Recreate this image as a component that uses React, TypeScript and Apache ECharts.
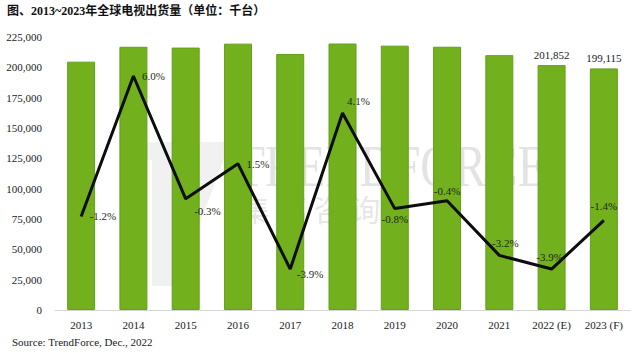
import React, { useEffect, useRef } from "react";
import * as echarts from "echarts";

const categories = ["2013", "2014", "2015", "2016", "2017", "2018", "2019", "2020", "2021", "2022 (E)", "2023 (F)"];
const shipments = [204657, 216936, 216285, 219529, 210967, 219617, 217860, 216988, 210044, 201852, 199115];
const growth = [-1.2, 6.0, -0.3, 1.5, -3.9, 4.1, -0.8, -0.4, -3.2, -3.9, -1.4];
const labelledBars = [9, 10];
const yTicks = [0, 25000, 50000, 75000, 100000, 125000, 150000, 175000, 200000, 225000];

const SERIF = "'Liberation Serif','Times New Roman',serif";

const growthLabel: Array<{ position: string; offset: number[] }> = [
  { position: "right", offset: [2, 0] },
  { position: "right", offset: [2, 0] },
  { position: "right", offset: [2, 12] },
  { position: "right", offset: [2, 0] },
  { position: "right", offset: [0, 5] },
  { position: "right", offset: [-2, -12] },
  { position: "bottom", offset: [0, -2] },
  { position: "top", offset: [0, 2] },
  { position: "top", offset: [6, 0] },
  { position: "top", offset: [-2, 0] },
  { position: "top", offset: [0, -2] },
];

export default function App() {
  const ref = useRef<HTMLDivElement>(null);
  useEffect(() => {
    if (!ref.current) return;
    const chart = echarts.init(ref.current, null, { renderer: "svg" });
    const fmt = (v: number) => v.toLocaleString("en-US");
    chart.setOption({
      animation: false,
      backgroundColor: "#ffffff",
      grid: { left: 55, right: 10, top: 37, bottom: 43, containLabel: false },
      xAxis: {
        type: "category",
        data: categories,
        axisLine: { lineStyle: { color: "#d6d6d6", width: 1 } },
        axisTick: { show: false },
        axisLabel: { fontFamily: SERIF, fontSize: 11, color: "#1a1a1a", margin: 9 },
      },
      yAxis: [
        {
          type: "value",
          min: yTicks[0],
          max: yTicks[yTicks.length - 1],
          interval: 25000,
          axisLine: { show: false },
          axisTick: { show: false },
          splitLine: { show: false },
          axisLabel: {
            fontFamily: SERIF,
            fontSize: 11,
            color: "#1a1a1a",
            margin: 13,
            formatter: (v: number) => fmt(v),
          },
        },
        { type: "value", min: -6, max: 8, show: false, splitLine: { show: false } },
      ],
      series: [
        {
          type: "bar",
          data: shipments.map((v, i) => ({
            value: v,
            label: {
              show: labelledBars.includes(i),
              position: "top",
              distance: 5,
              fontFamily: SERIF,
              fontSize: 11,
              color: "#1a1a1a",
              formatter: (p: any) => fmt(p.value),
            },
          })),
          barWidth: 28,
          itemStyle: { color: "#72b01e", borderColor: "#63a018", borderWidth: 1 },
          z: 2,
        },
        {
          type: "line",
          yAxisIndex: 1,
          data: growth.map((v, i) => ({
            value: v,
            label: {
              show: true,
              position: growthLabel[i].position,
              offset: growthLabel[i].offset,
              distance: 6,
              fontFamily: SERIF,
              fontSize: 11,
              color: "#1f2a16",
              formatter: (p: any) => Number(p.value).toFixed(1) + "%",
            },
          })),
          symbol: "circle",
          symbolSize: 1,
          showSymbol: true,
          itemStyle: { color: "rgba(0,0,0,0)" },
          lineStyle: { color: "#0d0d0d", width: 3 },
          z: 10,
        },
      ],
      graphic: [
        {
          type: "text",
          left: 7,
          top: 5,
          style: {
            text: "图、2013~2023年全球电视出货量（单位：千台）",
            font: "bold 12px 'Liberation Serif','Noto Sans CJK SC',serif",
            fill: "#111",
          },
        },
        {
          type: "text",
          left: 12,
          top: 336,
          style: {
            text: "Source: TrendForce, Dec., 2022",
            font: "11px " + SERIF,
            fill: "#1a1a1a",
          },
        },
        {
          type: "group",
          z: 5,
          silent: true,
          children: [
            {
              type: "polygon",
              shape: { points: [[140, 142], [226, 142], [226, 154], [176, 286], [152, 286], [152, 160], [140, 160]] },
              style: { fill: "rgba(200,200,200,0.25)" },
            },
            {
              type: "text",
              x: 236,
              y: 136,
              scaleX: 0.79,
              style: {
                text: "TRENDFORCE",
                font: "60px " + SERIF,
                fill: "rgba(200,200,200,0.5)",
              },
            },
            {
              type: "text",
              x: 240,
              y: 193,
              style: {
                text: "集 邦 咨 询",
                font: "30px 'Noto Sans CJK SC',sans-serif",
                fill: "rgba(200,200,200,0.45)",
              },
            },
          ],
        },
      ],
    });
    return () => chart.dispose();
  }, []);
  return <div ref={ref} style={{ position: "fixed", left: 0, top: 0, width: 640, height: 353 }} />;
}
